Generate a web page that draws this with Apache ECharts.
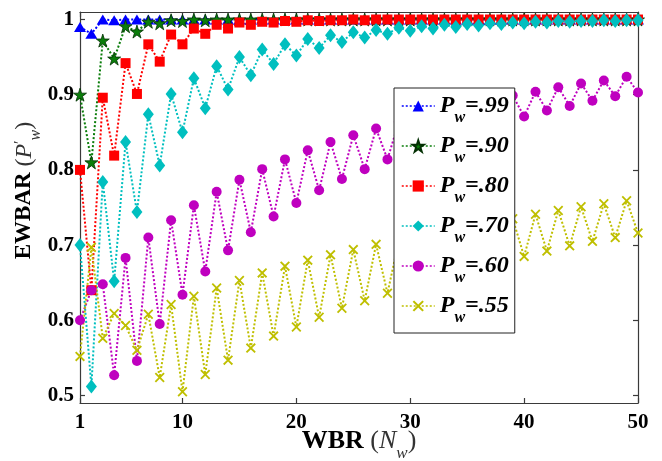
<!DOCTYPE html>
<html>
<head>
<meta charset="utf-8">
<script src="https://cdn.jsdelivr.net/npm/echarts@6.0.0/dist/echarts.min.js"></script>
<style>
html,body{margin:0;padding:0;background:#fff;}
#c{width:662px;height:461px;}
</style>
</head>
<body>
<div id="c"></div>
<script>
const X = [1,2,3,4,5,6,7,8,9,10,11,12,13,14,15,16,17,18,19,20,21,22,23,24,25,26,27,28,29,30,31,32,33,34,35,36,37,38,39,40,41,42,43,44,45,46,47,48,49,50];
const P99 = [0.99,0.981,1.0,0.999,1.0,1.0,1.0,1.0,1.0,1.0,1.0,1.0,1.0,1.0,1.0,1.0,1.0,1.0,1.0,1.0,1.0,1.0,1.0,1.0,1.0,1.0,1.0,1.0,1.0,1.0,1.0,1.0,1.0,1.0,1.0,1.0,1.0,1.0,1.0,1.0,1.0,1.0,1.0,1.0,1.0,1.0,1.0,1.0,1.0,1.0];
const P90 = [0.90,0.81,0.972,0.948,0.991,0.984,0.997,0.995,0.999,0.998,1.0,0.999,1.0,1.0,1.0,1.0,1.0,1.0,1.0,1.0,1.0,1.0,1.0,1.0,1.0,1.0,1.0,1.0,1.0,1.0,1.0,1.0,1.0,1.0,1.0,1.0,1.0,1.0,1.0,1.0,1.0,1.0,1.0,1.0,1.0,1.0,1.0,1.0,1.0,1.0];
const P80 = [0.80,0.64,0.896,0.819,0.942,0.901,0.967,0.944,0.980,0.967,0.988,0.981,0.993,0.988,0.996,0.993,0.997,0.996,0.998,0.997,0.999,0.998,0.999,0.999,1.0,0.999,1.0,1.0,1.0,1.0,1.0,1.0,1.0,1.0,1.0,1.0,1.0,1.0,1.0,1.0,1.0,1.0,1.0,1.0,1.0,1.0,1.0,1.0,1.0,1.0];
const P70 = [0.70,0.512,0.784,0.652,0.837,0.744,0.874,0.806,0.901,0.850,0.922,0.882,0.938,0.907,0.950,0.926,0.960,0.941,0.967,0.952,0.974,0.962,0.979,0.970,0.983,0.976,0.986,0.981,0.989,0.985,0.991,0.988,0.993,0.990,0.994,0.992,0.995,0.994,0.996,0.995,0.997,0.996,0.998,0.997,0.998,0.998,0.999,0.998,0.999,0.999];
const P60 = [0.60,0.64,0.648,0.527,0.683,0.546,0.710,0.595,0.733,0.634,0.753,0.665,0.771,0.693,0.787,0.717,0.801,0.738,0.814,0.756,0.826,0.773,0.837,0.788,0.846,0.801,0.855,0.814,0.864,0.825,0.872,0.835,0.880,0.845,0.886,0.854,0.893,0.862,0.899,0.871,0.904,0.879,0.910,0.885,0.915,0.892,0.919,0.898,0.924,0.903];
const P55 = [0.552,0.697,0.576,0.609,0.593,0.560,0.608,0.524,0.621,0.505,0.632,0.528,0.643,0.547,0.653,0.563,0.663,0.579,0.672,0.591,0.680,0.604,0.687,0.616,0.694,0.626,0.701,0.636,0.706,0.644,0.712,0.653,0.718,0.661,0.724,0.669,0.729,0.677,0.735,0.685,0.741,0.692,0.746,0.699,0.751,0.705,0.755,0.710,0.759,0.716];
const NAMES = ['Pw=.99','Pw=.90','Pw=.80','Pw=.70','Pw=.60','Pw=.55'];
const XTICKS = [1,10,20,30,40,50];
const YTICKS = [0.5,0.6,0.7,0.8,0.9,1];

const STAR = 'path://M50,0L61.2,34.5L97.6,34.5L68.2,55.9L79.4,90.5L50,69.1L20.6,90.5L31.8,55.9L2.4,34.5L38.8,34.5Z';
const CROSS = 'path://M0,1.3L1.3,0L5,3.7L8.7,0L10,1.3L6.3,5L10,8.7L8.7,10L5,6.3L1.3,10L0,8.7L3.7,5Z';

const SERIES_DEF = [
  {data:P99, color:'#0000ff', symbol:'triangle', size:[12,10]},
  {data:P90, color:'#0a7d0a', symbol:STAR, size:13, border:'#033003'},
  {data:P80, color:'#ff0000', symbol:'rect', size:10},
  {data:P70, color:'#00bfbf', symbol:'diamond', size:[11,14]},
  {data:P60, color:'#bf00bf', symbol:'circle', size:10},
  {data:P55, color:'#bfbf00', symbol:CROSS, size:10}
];

const FF = '"Liberation Serif", "Times New Roman", serif';
const chart = echarts.init(document.getElementById('c'), null, {renderer:'canvas'});

const axisLineStyle = {color:'#3a3a3a', width:1.2};
const series = SERIES_DEF.map((s,i)=>({
  name: NAMES[i],
  type: 'line',
  data: X.map((x,j)=>[x, s.data[j]]),
  symbol: s.symbol,
  symbolSize: s.size,
  showAllSymbol: true,
  lineStyle: {color:s.color, width:2, type:[2,2]},
  itemStyle: {color:s.color, borderColor: s.border || s.color, borderWidth: s.border ? 0.8 : 0},
  xAxisIndex: 0, yAxisIndex: 0
}));

const option = {
  animation: false,
  backgroundColor: '#fff',
  grid: {left:80, right:24, top:12, bottom:58, containLabel:false, outerBoundsMode:'none'},
  xAxis: [{
    type:'value', min:1, max:50, position:'bottom',
    axisLine:{show:true, onZero:false, lineStyle:axisLineStyle},
    axisTick:{show:true, inside:true, length:5, customValues:XTICKS, lineStyle:axisLineStyle},
    axisLabel:{show:true, customValues:XTICKS, margin:9, color:'#000', fontFamily:FF, fontWeight:'bold', fontSize:21},
    splitLine:{show:false},
    name:'{b|WBR }{i|(}{n|N}{s|w}{i|)}',
    nameLocation:'middle', nameGap:25, nameMoveOverlap:false,
    nameTextStyle:{
      rich:{
        b:{fontFamily:FF, fontWeight:'bold', fontSize:26, color:'#000', lineHeight:28, verticalAlign:'top'},
        i:{fontFamily:FF, fontSize:26, color:'#333', lineHeight:28, verticalAlign:'top'},
        n:{fontFamily:FF, fontStyle:'italic', fontSize:26, color:'#333', lineHeight:28, verticalAlign:'top'},
        s:{fontFamily:FF, fontStyle:'italic', fontSize:17, color:'#333', lineHeight:17, padding:[17,0,0,0], verticalAlign:'top'}
      }
    }
  },{
    type:'value', min:1, max:50, position:'top',
    axisLine:{show:true, onZero:false, lineStyle:axisLineStyle},
    axisTick:{show:true, inside:true, length:5, customValues:XTICKS, lineStyle:axisLineStyle},
    axisLabel:{show:false}, splitLine:{show:false}
  }],
  yAxis: [{
    type:'value', min:0.49, max:1.01, position:'left',
    axisLine:{show:true, onZero:false, lineStyle:axisLineStyle},
    axisTick:{show:true, inside:true, length:5, customValues:YTICKS, lineStyle:axisLineStyle},
    axisLabel:{show:true, customValues:YTICKS, margin:6, color:'#000', fontFamily:FF, fontWeight:'bold', fontSize:21,
      formatter:function(v){ return Math.abs(v-1)<1e-9 ? '1' : v.toFixed(1); }},
    splitLine:{show:false},
    name:'{b|EWBAR }{i|(}{n|P}{pr|′}{s|w}{i|)}',
    nameLocation:'middle', nameGap:41, nameRotate:90, nameMoveOverlap:false,
    nameTextStyle:{
      padding:[0,0,0,34],
      rich:{
        b:{fontFamily:FF, fontWeight:'bold', fontSize:23, color:'#000', lineHeight:26, verticalAlign:'top'},
        i:{fontFamily:FF, fontSize:24, color:'#333', lineHeight:26, verticalAlign:'top'},
        n:{fontFamily:FF, fontStyle:'italic', fontSize:24, color:'#333', lineHeight:26, verticalAlign:'top'},
        pr:{fontFamily:FF, fontSize:16, color:'#333', lineHeight:16, verticalAlign:'top'},
        s:{fontFamily:FF, fontStyle:'italic', fontSize:16, color:'#333', lineHeight:16, padding:[15,0,0,0], verticalAlign:'top'}
      }
    }
  },{
    type:'value', min:0.49, max:1.01, position:'right',
    axisLine:{show:true, onZero:false, lineStyle:axisLineStyle},
    axisTick:{show:true, inside:true, length:5, customValues:YTICKS, lineStyle:axisLineStyle},
    axisLabel:{show:false}, splitLine:{show:false}
  }],
  legend: {
    orient:'vertical', left:394, top:88,
    padding:[6,6,7,7], itemGap:8, itemWidth:33, itemHeight:14,
    backgroundColor:'#fff', borderColor:'#222', borderWidth:1, borderRadius:0,
    data: NAMES,
    lineStyle:{width:1.5},
    formatter:function(name){ return '{p|P}{w|w}{v|' + name.slice(2) + '}'; },
    textStyle:{
      rich:{
        p:{fontFamily:FF, fontStyle:'italic', fontWeight:'bold', fontSize:24, color:'#000', lineHeight:24, verticalAlign:'top'},
        w:{fontFamily:FF, fontStyle:'italic', fontWeight:'bold', fontSize:16, color:'#000', lineHeight:16, padding:[16,0,0,0], verticalAlign:'top'},
        v:{fontFamily:FF, fontStyle:'italic', fontWeight:'bold', fontSize:24, color:'#000', lineHeight:24, verticalAlign:'top'}
      }
    }
  },
  series: series
};
chart.setOption(option);
</script>
</body>
</html>
